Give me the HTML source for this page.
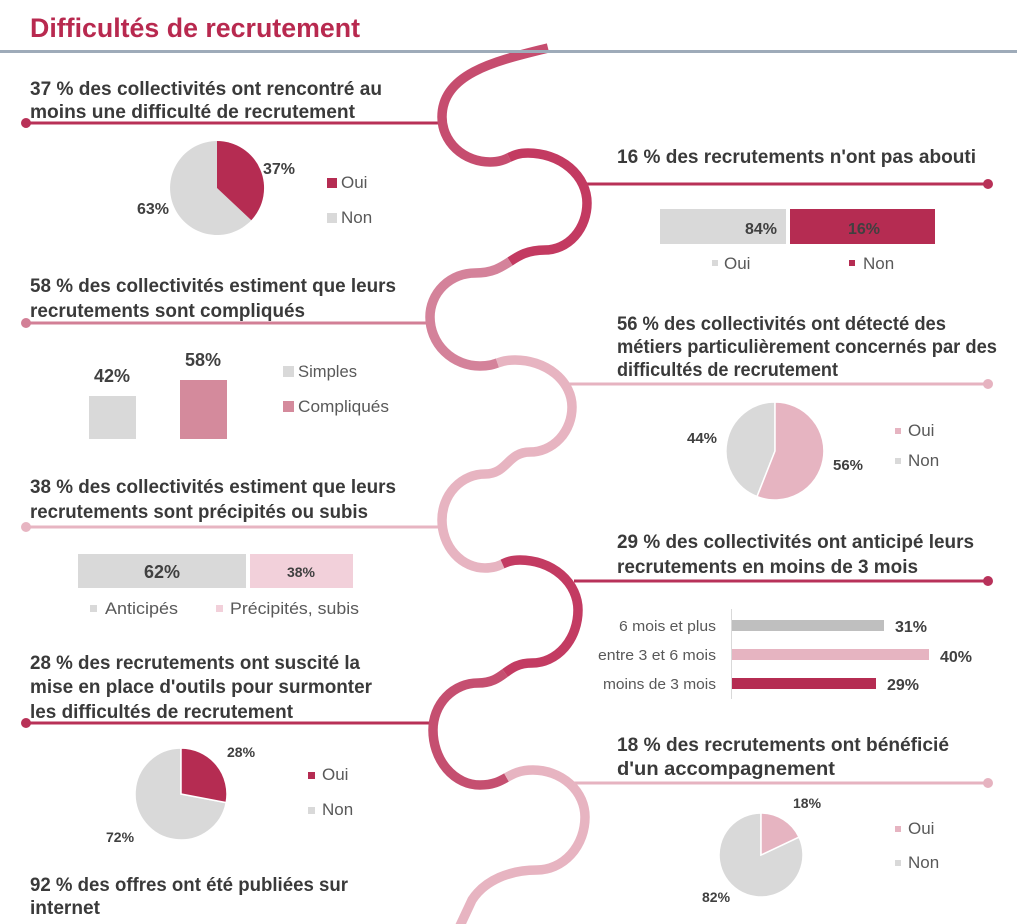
<!DOCTYPE html>
<html><head><meta charset="utf-8"><style>
html,body{margin:0;padding:0;background:#fff;}
svg{display:block;}
.h{font-family:"Liberation Sans",sans-serif;font-weight:bold;font-size:19px;fill:#3a3a3a;}
.lg{font-family:"Liberation Sans",sans-serif;font-size:17px;fill:#595959;}
.v{font-family:"Liberation Sans",sans-serif;font-weight:bold;fill:#404040;}
.c{font-family:"Liberation Sans",sans-serif;font-size:14.5px;fill:#595959;}
</style></head><body>
<svg width="1017" height="924" viewBox="0 0 1017 924" xmlns="http://www.w3.org/2000/svg">
<rect width="1017" height="924" fill="#fff"/>

<!-- connector lines -->
<g stroke-width="3" fill="none">
<line x1="26" y1="123" x2="446" y2="123" stroke="#b83157"/>
<line x1="580" y1="184" x2="988" y2="184" stroke="#b83157"/>
<line x1="26" y1="323" x2="434" y2="323" stroke="#d27f96"/>
<line x1="566" y1="384" x2="988" y2="384" stroke="#e6b3c0"/>
<line x1="26" y1="527" x2="446" y2="527" stroke="#e7b5c2"/>
<line x1="574" y1="581" x2="988" y2="581" stroke="#b8325a"/>
<line x1="26" y1="723" x2="436" y2="723" stroke="#b83157"/>
<line x1="570" y1="783" x2="988" y2="783" stroke="#e6b3c0"/>
</g>
<g>
<circle cx="26" cy="123" r="5" fill="#b83157"/>
<circle cx="988" cy="184" r="5" fill="#b83157"/>
<circle cx="26" cy="323" r="5" fill="#d27f96"/>
<circle cx="988" cy="384" r="5" fill="#e6b3c0"/>
<circle cx="26" cy="527" r="5" fill="#e7b5c2"/>
<circle cx="988" cy="581" r="5" fill="#b8325a"/>
<circle cx="26" cy="723" r="5" fill="#b83157"/>
<circle cx="988" cy="783" r="5" fill="#e6b3c0"/>
</g>

<!-- wave -->
<g fill="none" stroke-width="9.5" stroke-linecap="butt">
<path stroke="#c64d6f" d="M 548 48 C 500 60 442 72 442 117 A 48 45 0 0 0 490 162 C 499.5 162 504.25 159.75 509 157.5"/>
<path stroke="#c33a61" d="M 509 157.5 C 513.75 155.25 518.5 153 528 153 A 59 50 0 0 1 587 203 A 42 47 0 0 1 545 250 C 527.5 250 518.75 255.75 510 261.5"/>
<path stroke="#d4829a" d="M 510 261.5 C 501.25 267.25 492.5 273 475 273 A 45 44 0 0 0 430 317 A 50 49 0 0 0 480 366 C 488.75 366 493.1 364.5 497.5 363"/>
<path stroke="#e7b4c1" d="M 497.5 363 C 501.9 361.5 506.25 360 515 360 A 57 47 0 0 1 572 407 A 42 45 0 0 1 530 452 C 507.5 452 507.5 474 485 474 A 43 46 0 0 0 442 520 A 43 48 0 0 0 485 568 C 493.75 568 498.1 566 502.5 564"/>
<path stroke="#c33b62" d="M 502.5 564 C 506.9 562 511.25 560 520 560 A 58 50 0 0 1 578 610 A 46 53 0 0 1 532 663 C 518.5 663 511.75 668 505 673"/>
<path stroke="#c54f70" d="M 505 673 C 498.25 678 491.5 683 478 683 A 45 47 0 0 0 433 730 A 47 55 0 0 0 480 785 C 493.25 785 499.9 781.25 506.5 777.5"/>
<path stroke="#e7b4c1" d="M 506.5 777.5 C 513.1 773.75 519.75 770 533 770 A 52 47 0 0 1 585 817 A 48 53 0 0 1 537 870 C 510 870 485 880 472 900 L 458 930"/>
</g>

<!-- title & rule -->
<text x="30" y="37" font-family="Liberation Sans, sans-serif" font-weight="bold" font-size="27" fill="#b8294f" textLength="330" lengthAdjust="spacingAndGlyphs">Difficultés de recrutement</text>
<rect x="0" y="50" width="1017" height="3" fill="#9eabb9"/>

<!-- headings -->
<text class="h" x="30" y="95" textLength="352" lengthAdjust="spacingAndGlyphs">37 % des collectivités ont rencontré au</text>
<text class="h" x="30" y="118" textLength="325" lengthAdjust="spacingAndGlyphs">moins une difficulté de recrutement</text>

<text class="h" x="617" y="163" textLength="359" lengthAdjust="spacingAndGlyphs">16 % des recrutements n'ont pas abouti</text>

<text class="h" x="30" y="292" textLength="366" lengthAdjust="spacingAndGlyphs">58 % des collectivités estiment que leurs</text>
<text class="h" x="30" y="317" textLength="275" lengthAdjust="spacingAndGlyphs">recrutements sont compliqués</text>

<text class="h" x="617" y="330" textLength="329" lengthAdjust="spacingAndGlyphs">56 % des collectivités ont détecté des</text>
<text class="h" x="617" y="353" textLength="380" lengthAdjust="spacingAndGlyphs">métiers particulièrement concernés par des</text>
<text class="h" x="617" y="376" textLength="221" lengthAdjust="spacingAndGlyphs">difficultés de recrutement</text>

<text class="h" x="30" y="493" textLength="366" lengthAdjust="spacingAndGlyphs">38 % des collectivités estiment que leurs</text>
<text class="h" x="30" y="518" textLength="338" lengthAdjust="spacingAndGlyphs">recrutements sont précipités ou subis</text>

<text class="h" x="617" y="548" textLength="357" lengthAdjust="spacingAndGlyphs">29 % des collectivités ont anticipé leurs</text>
<text class="h" x="617" y="573" textLength="301" lengthAdjust="spacingAndGlyphs">recrutements en moins de 3 mois</text>

<text class="h" x="30" y="669" textLength="330" lengthAdjust="spacingAndGlyphs">28 % des recrutements ont suscité la</text>
<text class="h" x="30" y="693" textLength="342" lengthAdjust="spacingAndGlyphs">mise en place d'outils pour surmonter</text>
<text class="h" x="30" y="718" textLength="263" lengthAdjust="spacingAndGlyphs">les difficultés de recrutement</text>

<text class="h" x="617" y="751" textLength="332" lengthAdjust="spacingAndGlyphs">18 % des recrutements ont bénéficié</text>
<text class="h" x="617" y="775" textLength="218" lengthAdjust="spacingAndGlyphs">d'un accompagnement</text>

<text class="h" x="30" y="891" textLength="318" lengthAdjust="spacingAndGlyphs">92 % des offres ont été publiées sur</text>
<text class="h" x="30" y="914" textLength="70" lengthAdjust="spacingAndGlyphs">internet</text>

<!-- Pie 1 -->
<path d="M217,188 L251.3,220.2 A47,47 0 1 1 217,141 Z" fill="#d9d9d9"/>
<path d="M217,188 L217,141 A47,47 0 0 1 251.3,220.2 Z" fill="#b52c52"/>
<text class="v" x="263" y="174" font-size="16">37%</text>
<text class="v" x="137" y="214" font-size="16">63%</text>
<rect x="327" y="178" width="10" height="10" fill="#b52c52"/>
<text class="lg" x="341" y="188">Oui</text>
<rect x="327" y="213" width="10" height="10" fill="#d9d9d9"/>
<text class="lg" x="341" y="223">Non</text>

<!-- Section 2 bars -->
<rect x="660" y="209" width="126" height="35" fill="#d9d9d9"/>
<rect x="790" y="209" width="145" height="35" fill="#b52c52"/>
<text class="v" x="777" y="234" font-size="16" text-anchor="end">84%</text>
<text class="v" x="864" y="234" font-size="16" text-anchor="middle">16%</text>
<rect x="712" y="260" width="6" height="6" fill="#d9d9d9"/>
<text class="lg" x="724" y="269">Oui</text>
<rect x="849" y="260" width="6" height="6" fill="#b52c52"/>
<text class="lg" x="863" y="269">Non</text>

<!-- Section 3 bars -->
<rect x="89" y="396" width="47" height="43" fill="#d9d9d9"/>
<rect x="180" y="380" width="47" height="59" fill="#d48a9c"/>
<text class="v" x="112" y="382" font-size="18" text-anchor="middle">42%</text>
<text class="v" x="203" y="366" font-size="18" text-anchor="middle">58%</text>
<rect x="283" y="366" width="11" height="11" fill="#d9d9d9"/>
<text class="lg" x="298" y="377" textLength="59" lengthAdjust="spacingAndGlyphs">Simples</text>
<rect x="283" y="401" width="11" height="11" fill="#d48a9c"/>
<text class="lg" x="298" y="412" textLength="91" lengthAdjust="spacingAndGlyphs">Compliqués</text>

<!-- Pie 4 -->
<g stroke="#fff" stroke-width="1.5">
<path d="M775,451 L757,496.6 A49,49 0 0 1 775,402 Z" fill="#d9d9d9"/>
<path d="M775,451 L775,402 A49,49 0 1 1 757,496.6 Z" fill="#e6b4c1"/>
</g>
<text class="v" x="687" y="443" font-size="15">44%</text>
<text class="v" x="833" y="470" font-size="15">56%</text>
<rect x="895" y="428" width="6" height="6" fill="#e6b4c1"/>
<text class="lg" x="908" y="436">Oui</text>
<rect x="895" y="458" width="6" height="6" fill="#d9d9d9"/>
<text class="lg" x="908" y="466">Non</text>

<!-- Section 5 bars -->
<rect x="78" y="554" width="168" height="34" fill="#d9d9d9"/>
<rect x="250" y="554" width="103" height="34" fill="#f2d0da"/>
<text class="v" x="162" y="578" font-size="18" text-anchor="middle">62%</text>
<text class="v" x="301" y="577" font-size="14" text-anchor="middle">38%</text>
<rect x="90" y="605" width="7" height="7" fill="#d9d9d9"/>
<text class="lg" x="105" y="614" textLength="73" lengthAdjust="spacingAndGlyphs">Anticipés</text>
<rect x="216" y="605" width="7" height="7" fill="#f2d0da"/>
<text class="lg" x="230" y="614" textLength="129" lengthAdjust="spacingAndGlyphs">Précipités, subis</text>

<!-- Section 6 bar chart -->
<line x1="731.5" y1="609" x2="731.5" y2="699" stroke="#d9d9d9" stroke-width="1"/>
<rect x="732" y="620" width="152" height="11" fill="#bfbfbf"/>
<rect x="732" y="649" width="197" height="11" fill="#e6b4c1"/>
<rect x="732" y="678" width="144" height="11" fill="#b52c52"/>
<text class="c" x="716" y="631" text-anchor="end" textLength="97" lengthAdjust="spacingAndGlyphs">6 mois et plus</text>
<text class="c" x="716" y="660" text-anchor="end" textLength="118" lengthAdjust="spacingAndGlyphs">entre 3 et 6 mois</text>
<text class="c" x="716" y="689" text-anchor="end" textLength="113" lengthAdjust="spacingAndGlyphs">moins de 3 mois</text>
<text class="v" x="895" y="632" font-size="16">31%</text>
<text class="v" x="940" y="662" font-size="16">40%</text>
<text class="v" x="887" y="690" font-size="16">29%</text>

<!-- Pie 7 -->
<g stroke="#fff" stroke-width="1.5">
<path d="M181,794 L226.2,802.6 A46,46 0 1 1 181,748 Z" fill="#d9d9d9"/>
<path d="M181,794 L181,748 A46,46 0 0 1 226.2,802.6 Z" fill="#b52c52"/>
</g>
<text class="v" x="227" y="757" font-size="14">28%</text>
<text class="v" x="106" y="842" font-size="14">72%</text>
<rect x="308" y="772" width="7" height="7" fill="#b52c52"/>
<text class="lg" x="322" y="780">Oui</text>
<rect x="308" y="807" width="7" height="7" fill="#d9d9d9"/>
<text class="lg" x="322" y="815">Non</text>

<!-- Pie 8 -->
<g stroke="#fff" stroke-width="1.5">
<path d="M761,855 L799,837.1 A42,42 0 1 1 761,813 Z" fill="#d9d9d9"/>
<path d="M761,855 L761,813 A42,42 0 0 1 799,837.1 Z" fill="#e6b4c1"/>
</g>
<text class="v" x="793" y="808" font-size="14">18%</text>
<text class="v" x="702" y="902" font-size="14">82%</text>
<rect x="895" y="826" width="6" height="6" fill="#e6b4c1"/>
<text class="lg" x="908" y="834">Oui</text>
<rect x="895" y="860" width="6" height="6" fill="#d9d9d9"/>
<text class="lg" x="908" y="868">Non</text>
</svg>
</body></html>
